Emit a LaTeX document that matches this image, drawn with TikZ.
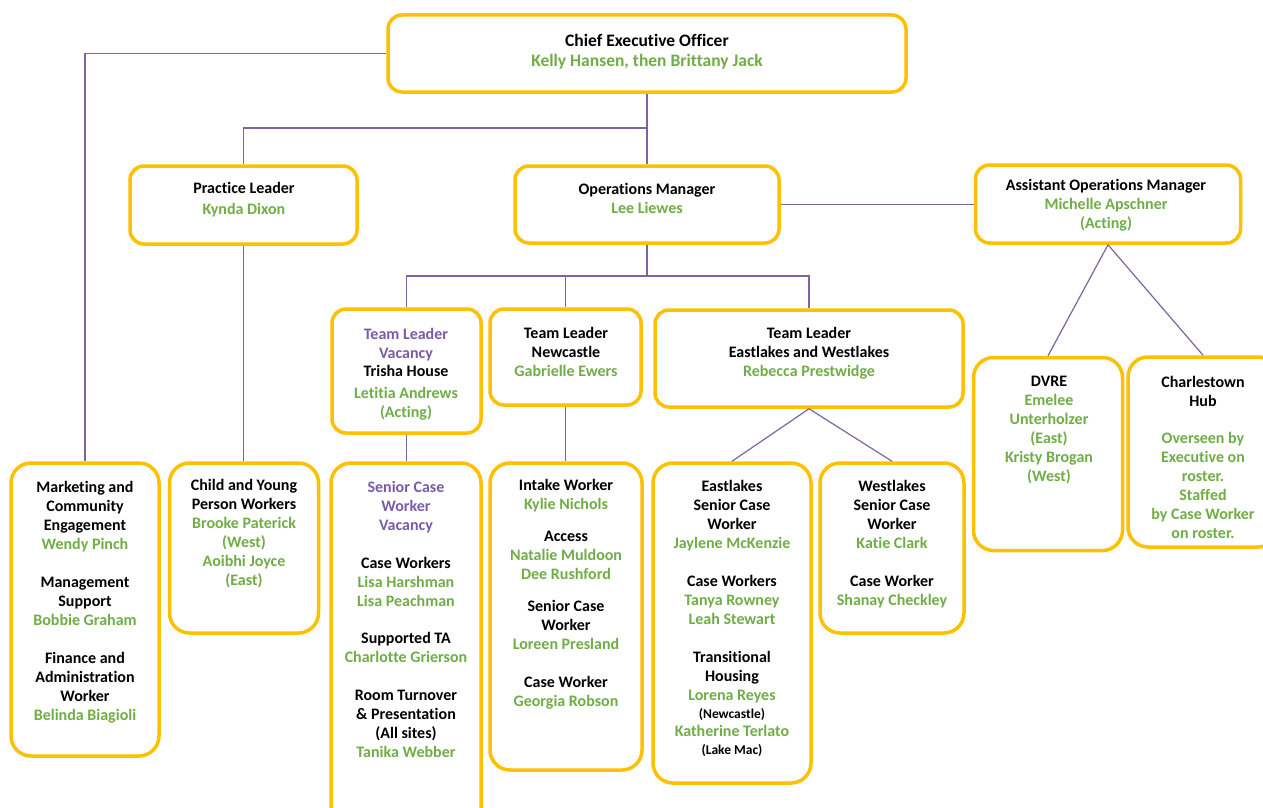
\documentclass[tikz,border=0pt]{standalone}
\usepackage{fontspec}
\setmainfont{Carlito}[Ligatures=NoCommon]
\definecolor{boxy}{HTML}{FFC000}
\definecolor{grn}{HTML}{70AD47}
\definecolor{prp}{HTML}{7A5BAA}
\definecolor{conn}{HTML}{8064A2}
\newcommand{\G}[1]{\textcolor{grn}{#1}}
\newcommand{\Pu}[1]{\textcolor{prp}{#1}}
\newcommand{\smalltxt}[1]{{\fontsize{13.5}{16}\selectfont #1}}
\tikzset{
  orgbox/.style={draw=boxy, line width=3.5pt, rounded corners=14pt, fill=white, inner sep=0pt},
  orgtext/.style={anchor=north, align=center, inner sep=0pt, yshift=-1.5pt, font=\fontsize{16}{19}\selectfont\bfseries},
  link/.style={draw=conn, line width=1.2pt}
}
\begin{document}
\begin{tikzpicture}[x=1pt,y=-1pt]
\useasboundingbox (0,0) rectangle (1263,808);
\clip (0,0) rectangle (1263,808);
\fill[white] (0,0) rectangle (1263,808);

% boxes
\node[orgbox, minimum width=518pt, minimum height=77pt] (ceo) at (647,53.5) {};
\node[orgbox, minimum width=227pt, minimum height=78pt] (pl) at (243.5,205) {};
\node[orgbox, minimum width=264pt, minimum height=77pt] (om) at (647,204.5) {};
\node[orgbox, minimum width=265pt, minimum height=78pt] (aom) at (1108,204) {};
\node[orgbox, minimum width=149pt, minimum height=124pt] (tl1) at (406.5,371) {};
\node[orgbox, minimum width=151pt, minimum height=96pt] (tl2) at (565.5,357) {};
\node[orgbox, minimum width=308pt, minimum height=97pt] (tl3) at (809,358.5) {};
\node[orgbox, minimum width=149pt, minimum height=193pt, rounded corners=20pt] (dv) at (1048,454) {};
\node[orgbox, minimum width=150pt, minimum height=190pt, rounded corners=20pt] (ch) at (1203,452) {};
\node[orgbox, minimum width=148pt, minimum height=293pt, rounded corners=20pt] (mk) at (85,609.5) {};
\node[orgbox, minimum width=149pt, minimum height=170pt, rounded corners=20pt] (cy) at (244,548) {};
\node[orgbox, minimum width=150pt, minimum height=367pt, rounded corners=20pt] (sc) at (406,646.5) {};
\node[orgbox, minimum width=152pt, minimum height=307pt, rounded corners=20pt] (ik) at (566,616.5) {};
\node[orgbox, minimum width=158pt, minimum height=320pt, rounded corners=20pt] (es) at (732,623) {};
\node[orgbox, minimum width=144pt, minimum height=170pt, rounded corners=20pt] (ws) at (892,548) {};

% connectors
\coordinate (b1) at (647,128);
\coordinate (b2) at (647,276);
\draw[link] (ceo.south) -- (om.north);
\draw[link] (b1) -| (pl.north);
\draw[link] (ceo.west) -| (mk.north);
\draw[link] (pl.south) -- (pl.south |- cy.north);
\draw[link] (om.east) -- (aom.west |- om.east);
\draw[link] (om.south) -- (b2);
\draw[link] (b2) -| (tl1.north);
\draw[link] (b2) -| (tl2.north);
\draw[link] (b2) -| (tl3.north);
\draw[link] (tl1.south) -- (tl1.south |- sc.north);
\draw[link] (tl2.south) -- (tl2.south |- ik.north);
\draw[link] (tl3.south) -- (es.north);
\draw[link] (tl3.south) -- (ws.north);
\draw[link] (aom.south) -- (dv.north);
\draw[link] (aom.south) -- (ch.north);

% texts
\node[orgtext, font=\fontsize{17.5}{20}\selectfont\bfseries] (ceo-t) at (647,33) {Chief Executive Officer\\\G{Kelly Hansen, then Brittany Jack}};
\node[orgtext] (pl-t) at (244,181) {Practice Leader\\[2pt]\G{Kynda Dixon}};
\node[orgtext] (om-t) at (647,182) {Operations Manager\\\G{Lee Liewes}};
\node[orgtext] (aom-t) at (1106,178) {Assistant Operations Manager\\\G{Michelle Apschner}\\\G{(Acting)}};
\node[orgtext] (tl1-t) at (406,327) {\Pu{Team Leader}\\\Pu{Vacancy}\\[-1pt]Trisha House\\[3pt]\G{Letitia Andrews}\\\G{(Acting)}};
\node[orgtext] (tl2-t) at (566,326) {Team Leader\\Newcastle\\\G{Gabrielle Ewers}};
\node[orgtext] (tl3-t) at (809,326) {Team Leader\\Eastlakes and Westlakes\\\G{Rebecca Prestwidge}};
\node[orgtext] (dv-t) at (1049,374) {DVRE\\\G{Emelee}\\\G{Unterholzer}\\\G{(East)}\\\G{Kristy Brogan}\\\G{(West)}};
\node[orgtext] (ch-t) at (1203,375) {Charlestown\\Hub\\[18pt]\G{Overseen by}\\\G{Executive on}\\\G{roster.}\\\G{Staffed}\\\G{by Case Worker}\\\G{on roster.}};
\node[orgtext] (mk-t) at (85,480) {Marketing and\\Community\\Engagement\\\G{Wendy Pinch}\\[19pt]Management\\Support\\\G{Bobbie Graham}\\[19pt]Finance and\\Administration\\Worker\\\G{Belinda Biagioli}};
\node[orgtext] (cy-t) at (244,478) {Child and Young\\Person Workers\\\G{Brooke Paterick}\\\G{(West)}\\\G{Aoibhi Joyce}\\\G{(East)}};
\node[orgtext] (sc-t) at (406,480) {\Pu{Senior Case}\\\Pu{Worker}\\\Pu{Vacancy}\\[19pt]Case Workers\\\G{Lisa Harshman}\\\G{Lisa Peachman}\\[18pt]Supported TA\\\G{Charlotte Grierson}\\[19pt]Room Turnover\\\& Presentation\\(All sites)\\\G{Tanika Webber}};
\node[orgtext] (ik-t) at (566,478) {Intake Worker\\\G{Kylie Nichols}\\[13pt]Access\\\G{Natalie Muldoon}\\\G{Dee Rushford}\\[13pt]Senior Case\\Worker\\\G{Loreen Presland}\\[19pt]Case Worker\\\G{Georgia Robson}};
\node[orgtext] (es-t) at (732,479) {Eastlakes\\Senior Case\\Worker\\\G{Jaylene McKenzie}\\[19pt]Case Workers\\\G{Tanya Rowney}\\\G{Leah Stewart}\\[19pt]Transitional\\Housing\\\G{Lorena Reyes}\\[-1pt]\smalltxt{(Newcastle)}\\[-1pt]\G{Katherine Terlato}\\[-1pt]\smalltxt{(Lake Mac)}};
\node[orgtext] (ws-t) at (892,479) {Westlakes\\Senior Case\\Worker\\\G{Katie Clark}\\[19pt]Case Worker\\\G{Shanay Checkley}};
\end{tikzpicture}
\end{document}
